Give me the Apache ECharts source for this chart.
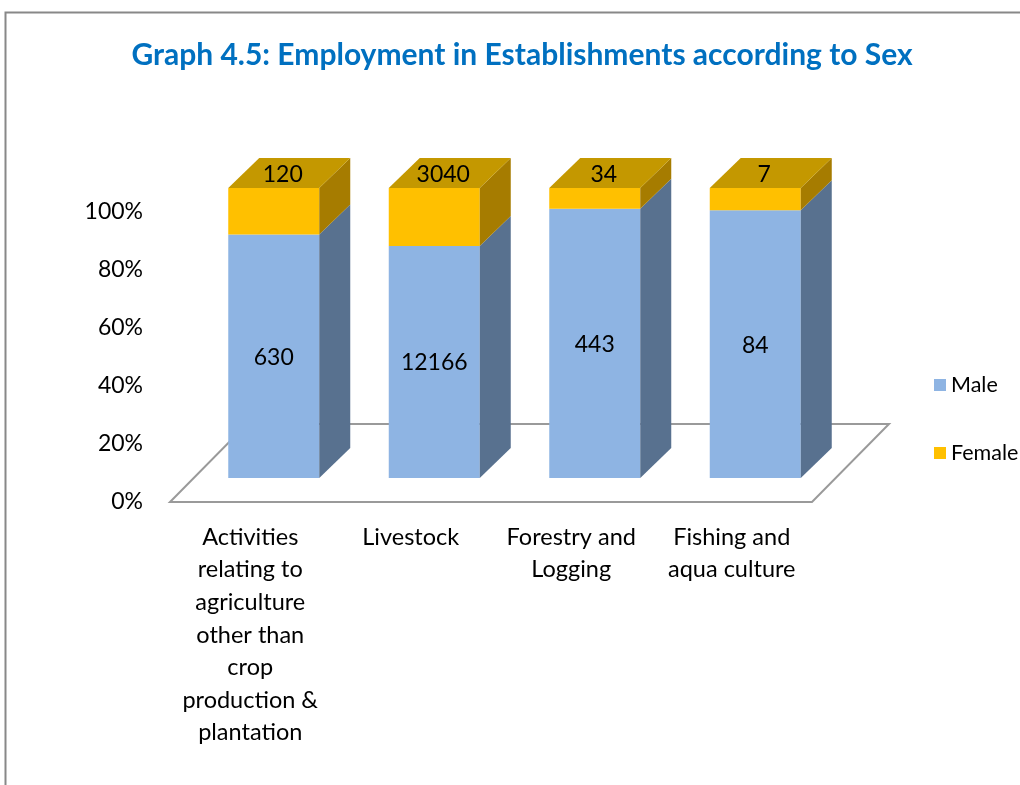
<!DOCTYPE html>
<html>
<head>
<meta charset="utf-8">
<script src="https://cdn.jsdelivr.net/npm/echarts@6/dist/echarts.min.js"></script>
<style>
html,body{margin:0;padding:0;background:#fff;}
#chart{width:1020px;height:785px;}
</style>
</head>
<body>
<div id="chart"></div>
<script>
const categories = [
  'Activities\nrelating to\nagriculture\nother than\ncrop\nproduction &\nplantation',
  'Livestock',
  'Forestry and\nLogging',
  'Fishing and\naqua culture'
];
const maleValues = [630, 12166, 443, 84];
const femaleValues = [120, 3040, 34, 7];
const yTicks = [0, 0.2, 0.4, 0.6, 0.8, 1];
const titleText = 'Graph 4.5: Employment in Establishments according to Sex';

const FONT = 'Lato, Carlito, Calibri, sans-serif';
const BAR_W = 91, DX = 31, DY = -30;      // bar depth
const FDX = 77, FDY = -78;                 // floor depth
const C = {
  maleFront: '#8EB4E3', maleSide: '#58718F',
  femFront: '#FFC000', femSide: '#A67C00', femTop: '#C49800'
};

const maleData = maleValues.map((m, i) => [i, m / (m + femaleValues[i]), m]);
const femaleData = femaleValues.map((f, i) => [i, maleValues[i] / (maleValues[i] + f), 1, f]);

function box(api, i, v0, v1, front, side, top, label, labelPos) {
  const b = api.coord([i, v0]);
  const t = api.coord([i, v1]);
  const x0 = b[0] - BAR_W / 2, x1 = x0 + BAR_W;
  const children = [
    {type: 'rect', shape: {x: x0, y: t[1], width: BAR_W, height: b[1] - t[1]}, style: {fill: front}},
    {type: 'polygon', shape: {points: [[x1, b[1]], [x1 + DX, b[1] + DY], [x1 + DX, t[1] + DY], [x1, t[1]]]}, style: {fill: side}}
  ];
  if (top) {
    children.push({type: 'polygon', shape: {points: [[x0, t[1]], [x1, t[1]], [x1 + DX, t[1] + DY], [x0 + DX, t[1] + DY]]}, style: {fill: top}});
  }
  const lp = labelPos === 'top'
    ? [b[0] + 9, t[1] + DY / 2 + 2]
    : [b[0], (b[1] + t[1]) / 2 + 1];
  children.push({type: 'text', x: lp[0], y: lp[1], style: {text: String(label), font: '23px ' + FONT, fill: '#000', textAlign: 'center', textVerticalAlign: 'middle'}});
  return {type: 'group', children};
}

const chart = echarts.init(document.getElementById('chart'), null, {renderer: 'canvas'});
chart.setOption({
  backgroundColor: '#fff',
  animation: false,
  graphic: [
    {type: 'rect', shape: {x: 5.5, y: 12.5, width: 1200, height: 1000}, style: {fill: 'none', stroke: '#888', lineWidth: 2}, z: -10},
    {type: 'text', x: 522, y: 55, style: {text: titleText, font: 'bold 30px ' + FONT, fill: '#0070C0', textAlign: 'center', textVerticalAlign: 'middle'}}
  ],
  legend: {
    orient: 'vertical', left: 929, top: 369,
    itemWidth: 12, itemHeight: 12, itemGap: 46,
    icon: 'rect',
    textStyle: {fontFamily: FONT, fontSize: 21.5, color: '#000'},
    data: ['Male', 'Female']
  },
  grid: [
    {left: 170, top: 212, width: 642, height: 290},     // floor front plane
    {left: 193.5, top: 188, width: 642, height: 290}    // bar front plane
  ],
  xAxis: [
    {type: 'category', gridIndex: 0, data: categories,
     axisLine: {show: false}, axisTick: {show: false},
     axisLabel: {interval: 0, margin: 19, fontFamily: FONT, fontSize: 23.5, lineHeight: 32.6, color: '#000', align: 'center'}},
    {type: 'category', gridIndex: 1, data: categories, show: false}
  ],
  yAxis: [
    {type: 'value', gridIndex: 0, min: 0, max: 1, interval: 0.2,
     axisLine: {show: false}, axisTick: {show: false}, splitLine: {show: false},
     axisLabel: {margin: 27, fontFamily: FONT, fontSize: 23, color: '#000', formatter: v => Math.round(v * 100) + '%'}},
    {type: 'value', gridIndex: 1, min: 0, max: 1, show: false}
  ],
  series: [
    {
      type: 'custom', name: 'floor', xAxisIndex: 0, yAxisIndex: 0, silent: true, z: 1,
      data: [[0, 0]],
      renderItem: (params, api) => {
        const cs = params.coordSys;
        const y = cs.y + cs.height, x0 = cs.x, x1 = cs.x + cs.width;
        return {type: 'polygon', shape: {points: [[x0, y], [x1, y], [x1 + FDX, y + FDY], [x0 + FDX, y + FDY]]},
          style: {fill: '#fff', stroke: '#9a9a9a', lineWidth: 2}};
      }
    },
    {
      type: 'custom', name: 'Male', xAxisIndex: 1, yAxisIndex: 1, z: 2,
      itemStyle: {color: C.maleFront},
      data: maleData,
      renderItem: (params, api) => box(api, api.value(0), 0, api.value(1), C.maleFront, C.maleSide, null, api.value(2), 'mid')
    },
    {
      type: 'custom', name: 'Female', xAxisIndex: 1, yAxisIndex: 1, z: 3,
      itemStyle: {color: C.femFront},
      data: femaleData,
      renderItem: (params, api) => box(api, api.value(0), api.value(1), api.value(2), C.femFront, C.femSide, C.femTop, api.value(3), 'top')
    }
  ]
});
</script>
</body>
</html>
